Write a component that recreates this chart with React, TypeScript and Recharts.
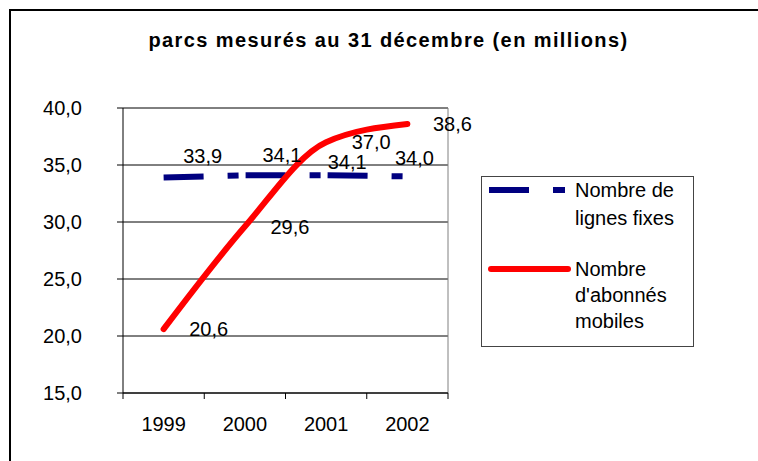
import { LineChart, Line, XAxis, YAxis, CartesianGrid, ReferenceLine, LabelList } from "recharts";

const years = ["1999", "2000", "2001", "2002"];
const lignesFixes = [33.9, 34.1, 34.1, 34.0];
const abonnesMobiles = [20.6, 29.6, 37.0, 38.6];
const yTicks = [15, 20, 25, 30, 35, 40];

// offsets of the blue labels (they are not all in the same spot in the original)
const fixeLabelOffsets = [
  [39, -22],
  [37, -20],
  [21, -13],
  [7, -18],
];

const data = years.map((year, i) => ({
  pos: i,
  year,
  fixe: lignesFixes[i],
  mobile: abonnesMobiles[i],
}));

const FONT = "'Liberation Sans', Arial, sans-serif";
const FS = 20;
const fmt = (v: number) => v.toFixed(1).replace(".", ",");

const XTick = (props: any) => {
  const { x, y, payload } = props;
  const v = payload.value;
  if (Number.isInteger(v)) {
    return (
      <text x={x} y={y + 31} textAnchor="middle" dominantBaseline="central" fontSize={FS} fill="#000" fontFamily={FONT}>
        {years[v]}
      </text>
    );
  }
  return <line x1={x} y1={y} x2={x} y2={y + 6} stroke="#000" />;
};

const fixeLabel = (props: any) => {
  const { x, y, value, index } = props;
  const [dx, dy] = fixeLabelOffsets[index];
  return (
    <text x={x + dx} y={y + dy} textAnchor="middle" dominantBaseline="central" fontSize={FS} fill="#000" fontFamily={FONT}>
      {fmt(value)}
    </text>
  );
};

const mobileLabel = (props: any) => {
  const { x, y, value } = props;
  return (
    <text x={x + 45} y={y} textAnchor="middle" dominantBaseline="central" fontSize={FS} fill="#000" fontFamily={FONT}>
      {fmt(value)}
    </text>
  );
};

const App = () => {
  return (
    <div style={{ position: "absolute", left: 0, top: 0, width: 758, height: 461, background: "#fff", overflow: "hidden", fontFamily: FONT }}>
      <div style={{ position: "absolute", left: 9, top: 9, width: 800, height: 500, border: "2px solid #000" }} />
      <div
        style={{
          position: "absolute",
          left: 0,
          top: 28,
          width: 777,
          textAlign: "center",
          fontSize: 20,
          fontWeight: "bold",
          letterSpacing: 1.4,
          lineHeight: "24px",
          color: "#000",
        }}
      >
        parcs mesurés au 31 décembre (en millions)
      </div>
      <div style={{ position: "absolute", left: 0, top: 0 }}>
        <LineChart width={758} height={461} data={data} margin={{ top: 108, right: 310, bottom: 0, left: 0 }}>
          <CartesianGrid vertical={false} stroke="#000" />
          <XAxis
            dataKey="pos"
            type="number"
            domain={[-0.5, 3.5]}
            ticks={[-0.5, 0, 0.5, 1, 1.5, 2, 2.5, 3, 3.5]}
            interval={0}
            tickSize={0}
            tickMargin={0}
            tickLine={false}
            tick={XTick}
            height={68}
            axisLine={{ stroke: "#000" }}
          />
          <YAxis
            domain={[15, 40]}
            ticks={yTicks}
            interval={0}
            width={123}
            tickSize={6}
            tickMargin={35}
            tickFormatter={fmt}
            tick={{ fontSize: FS, fill: "#000", fontFamily: FONT }}
            tickLine={{ stroke: "#000" }}
            axisLine={{ stroke: "#000" }}
          />
          <ReferenceLine x={3.5} stroke="#808080" />
          <Line
            dataKey="fixe"
            stroke="#000080"
            strokeWidth={6}
            strokeDasharray="40 24 11 7"
            dot={false}
            type="linear"
            isAnimationActive={false}
          >
            <LabelList dataKey="fixe" content={fixeLabel} />
          </Line>
          <Line
            dataKey="mobile"
            stroke="#ff0000"
            strokeWidth={6}
            strokeLinecap="round"
            dot={false}
            type="monotone"
            isAnimationActive={false}
          >
            <LabelList dataKey="mobile" content={mobileLabel} />
          </Line>
        </LineChart>
      </div>
      <svg style={{ position: "absolute", left: 481, top: 176 }} width={213} height={171}>
        <rect x={0.5} y={0.5} width={212} height={170} fill="#fff" stroke="#444" />
        <line x1={8} y1={14} x2={84} y2={14} stroke="#000080" strokeWidth={6} strokeDasharray="40 24 12" />
        <text x={94} y={14} dominantBaseline="central" fontSize={FS} fontFamily={FONT} fill="#000">Nombre de</text>
        <text x={94} y={42} dominantBaseline="central" fontSize={FS} fontFamily={FONT} fill="#000">lignes fixes</text>
        <line x1={10} y1={93} x2={87} y2={93} stroke="#ff0000" strokeWidth={6} strokeLinecap="round" />
        <text x={94} y={93} dominantBaseline="central" fontSize={FS} fontFamily={FONT} fill="#000">Nombre</text>
        <text x={94} y={119} dominantBaseline="central" fontSize={FS} fontFamily={FONT} fill="#000">d'abonnés</text>
        <text x={94} y={145} dominantBaseline="central" fontSize={FS} fontFamily={FONT} fill="#000">mobiles</text>
      </svg>
    </div>
  );
};

export default App;
